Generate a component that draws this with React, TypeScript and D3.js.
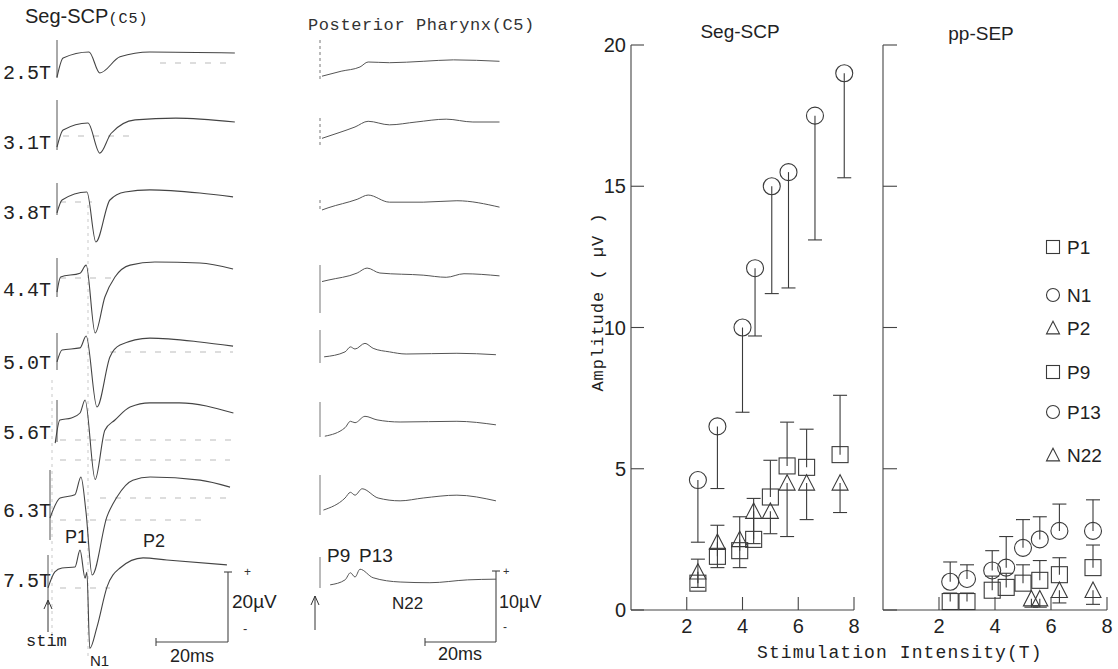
import React, { useEffect } from 'react';
import * as d3 from 'd3';

type Pt = [number, number];

// ---------- left: averaged waveforms ----------
const rowLabels = ['2.5T', '3.1T', '3.8T', '4.4T', '5.0T', '5.6T', '6.3T', '7.5T'];

// Seg-SCP(C5), [ms after stim, µV from baseline]
const segTraces: Pt[][] = [
  [[0, -4.9], [1.7, 0.6], [8.9, 2.3], [11.9, -3.7], [17.5, 0.9], [25.8, 2.3], [49.4, 2.0]],
  [[0, -4.9], [1.7, 0], [8.6, 2.0], [11.9, -6.6], [15, -1], [21.7, 2.9], [33, 3.4], [49.4, 2.3]],
  [[0, -3.7], [1.4, 0], [8.3, 2.3], [10.8, -12], [14.7, 0], [18.9, 2.3], [25.8, 2.9], [39.7, 2.0], [48.9, 0.9]],
  [[0, -4.3], [1, 0], [6.4, 1.1], [8.1, 3.4], [10.6, -16], [13.3, -5.7], [16.1, 0], [20.3, 3.4], [27.2, 4.3], [39.7, 4.0], [48.9, 2.3]],
  [[0, -3.4], [1.4, 0], [6.4, 0.6], [8.1, 4], [11.1, -16.3], [14.7, -2], [17.5, 1.4], [25.8, 3.4], [39.7, 2.3], [48.9, 1.1]],
  [[-0.5, -6.6], [0.8, 0], [4, 0.6], [6.4, 2], [7.8, 5.7], [10.6, -17], [13.3, -2.9], [16.1, 0], [20.3, 3.7], [25.8, 4.9], [34, 4.9], [49, 2]],
  [[0, -5.7], [2.8, 0], [6.9, 0.9], [8.6, 6], [10, -4], [11.7, -22], [15.8, -5.4], [18.6, 0.3], [23, 5.1], [27.8, 6], [41.7, 5.1], [50, 3.1]],
  [[0, -5.7], [1.9, -1.1], [3.9, 0], [7.5, 0.3], [8.9, 5.1], [10.3, -2.9], [10.8, -1.2], [11.6, -23], [13.6, -16.9], [16.4, -5.4], [20, 0], [26.4, 2.9], [33, 2.3], [49.7, 0.9]],
];

// Posterior Pharynx(C5), [ms after stim, µV from baseline]
const ppTraces: Pt[][] = [
  [[0, -2.0], [5.4, -1.3], [10.7, -0.7], [13, 0], [19, -0.1], [28.5, 0.1], [37, 0.3], [50, 0.1]],
  [[0, -2.3], [4.8, -1.5], [9.3, -0.7], [13, 0.1], [19, -0.4], [26.5, 0], [35, 0.4], [42.5, 0], [50, 0]],
  [[0, -0.7], [1.7, -0.4], [9.9, 0.8], [13, 1.4], [19, 0.4], [28.5, 0.4], [38, 0.6], [50, -0.3]],
  [[0, -0.5], [1.7, -0.3], [9.9, 0.7], [12.7, 1.4], [16.3, 0.7], [28.5, 0.4], [35, 0.1], [40, 0.6], [50, 0.3]],
  [[0.6, -0.4], [6.5, 0.3], [8, 1], [9.3, 0.7], [12.1, 1.5], [14.4, 0.8], [19, 0.3], [23.7, 0], [38, 0.1], [49, -0.1]],
  [[0.8, -2], [6.5, -0.8], [8, 0.1], [9.3, -0.1], [12.1, 0.8], [15.5, 0.3], [22, 0], [38, 0.1], [49, -0.4]],
  [[0.4, -1.7], [6.5, 0], [8, 0.8], [9.3, 0.4], [11.3, 1.3], [15.8, 0], [22, -0.4], [28.5, 0], [38, 0.4], [49, -0.4]],
  [[2.3, -0.4], [6.5, 0.3], [8, 1.3], [9.3, 0.7], [10.7, 1.8], [14.4, 0.6], [22, 0], [30.4, -0.1], [41, 0.3], [49, 0.4]],
];

// ---------- right: amplitude vs stimulation intensity ----------
const intensity = [2.4, 3.1, 3.9, 4.4, 5.0, 5.6, 6.3, 7.5];
const segN1X = [2.4, 3.1, 4.0, 4.45, 5.05, 5.65, 6.6, 7.65];
const segN1 = [4.6, 6.5, 10.0, 12.1, 15.0, 15.5, 17.5, 19.0];
const segN1Low = [2.4, 4.3, 7.0, 9.7, 11.2, 11.4, 13.1, 15.3];
const segP1 = [0.95, 1.9, 2.1, 2.5, 4.0, 5.1, 5.05, 5.5];
const segP1High = [1.8, 3.0, 3.3, 3.95, 5.3, 6.65, 6.4, 7.6];
const segP2 = [1.35, 2.4, 2.5, 3.5, 3.5, 4.5, 4.5, 4.5];
const segP2Low = [0.8, 1.5, 1.5, 2.35, 2.7, 2.6, 3.2, 3.45];

const ppX = [2.4, 3.0, 3.9, 4.4, 5.0, 5.6, 6.3, 7.5];
const ppP13 = [1.0, 1.1, 1.4, 1.5, 2.2, 2.5, 2.8, 2.8];
const ppP13High = [1.7, 1.6, 2.1, 2.6, 3.2, 3.3, 3.75, 3.9];
const ppP9 = [0.3, 0.3, 0.7, 0.8, 0.95, 1.05, 1.25, 1.5];
const ppP9High = [0.6, 0.6, 1.2, 1.3, 1.6, 1.75, 1.85, 2.3];
const ppN22X = [5.3, 5.6, 6.3, 7.5];
const ppN22 = [0.4, 0.4, 0.7, 0.7];
const ppN22Low = [0.1, 0.1, 0.25, 0.2];

const yTicks = [0, 5, 10, 15, 20];
const xTicks = [2, 4, 6, 8];
const legendItems = [
  { name: 'P1', shape: 'square' },
  { name: 'N1', shape: 'circle' },
  { name: 'P2', shape: 'triangle' },
  { name: 'P9', shape: 'square' },
  { name: 'P13', shape: 'circle' },
  { name: 'N22', shape: 'triangle' },
];

const SANS = '"Liberation Sans", Arial, sans-serif';
const MONO = '"Liberation Mono", "DejaVu Sans Mono", monospace';
const INK = '#3a3a3a';

function Marker({ shape, x, y, s }: { shape: string; x: number; y: number; s: number }) {
  if (shape === 'circle') return <circle cx={x} cy={y} r={s / 2} fill="none" stroke={INK} strokeWidth={1.1} />;
  if (shape === 'square')
    return <rect x={x - s / 2} y={y - s / 2} width={s} height={s} fill="none" stroke={INK} strokeWidth={1.1} />;
  const h = s * 0.9;
  return (
    <path d={`M${x},${y - h / 2 - 1} L${x + s / 2},${y + h / 2} L${x - s / 2},${y + h / 2} Z`} fill="none" stroke={INK} strokeWidth={1.1} />
  );
}

function ErrBar({ x, y0, y1 }: { x: number; y0: number; y1: number }) {
  return (
    <g stroke={INK} strokeWidth={1.1}>
      <line x1={x} x2={x} y1={y0} y2={y1} />
      <line x1={x - 7} x2={x + 7} y1={y1} y2={y1} />
    </g>
  );
}

export default function App() {
  useEffect(() => {
    document.body.style.margin = '0';
  }, []);

  // waveform scales
  const segT = d3.scaleLinear().domain([0, 20]).range([0, 72]);
  const segV = d3.scaleLinear().domain([0, 20]).range([0, -70]);
  const ppT = d3.scaleLinear().domain([0, 20]).range([0, 71]);
  const ppV = d3.scaleLinear().domain([0, 10]).range([0, -71]);
  const segLine = d3.line<Pt>().x(d => segT(d[0])).y(d => segV(d[1])).curve(d3.curveMonotoneX);
  const ppLine = d3.line<Pt>().x(d => ppT(d[0])).y(d => ppV(d[1])).curve(d3.curveMonotoneX);

  const segRowY = [60, 130, 200, 277, 350, 420, 498, 568];
  const segRowX = [57, 57, 57, 57, 57, 57, 50, 48];
  const segStim = [[40, 78], [100, 150], [183, 215], [258, 297], [333, 370], [400, 442], [470, 540], [555, 605]];
  const ppRowY = [62, 122, 205, 278, 354, 422, 498, 582];
  const ppRowX = [322, 322, 322, 322, 322, 322, 322, 322];
  const ppStim = [[40, 80], [118, 145], [200, 212], [265, 313], [330, 363], [402, 437], [475, 515], [557, 588]];

  // faint baseline dashes from the recording sheet
  const dashes = [
    [160, 235, 63], [63, 130, 136], [60, 92, 202], [60, 120, 278], [110, 233, 352], [60, 233, 440],
    [60, 230, 460], [100, 230, 498], [60, 110, 588], [60, 210, 520],
  ];

  // amplitude panels
  const segXs = d3.scaleLinear().domain([0, 8]).range([631, 854]);
  const ppXs = d3.scaleLinear().domain([0, 8]).range([883, 1107]);
  const yS = d3.scaleLinear().domain([0, 20]).range([610, 45]);

  const segCorner = { x: 228, y: 642 };
  const ppCorner = { x: 496, y: 642 };

  return (
    <svg width={1118} height={669} style={{ position: 'absolute', left: 0, top: 0, background: '#fff' }}>
      {/* ---- Seg-SCP waveforms ---- */}
      <text x={25} y={23} fontFamily={SANS} fontSize={20} fill="#222">
        Seg-SCP
        <tspan fontFamily={MONO} fontSize={15} letterSpacing={1}>(C5)</tspan>
      </text>
      {dashes.map((d, i) => (
        <line key={i} x1={d[0]} x2={d[1]} y1={d[2]} y2={d[2]} stroke="#aaa" strokeWidth={0.8} strokeDasharray="6 9" />
      ))}
      <line x1={88} x2={88} y1={205} y2={660} stroke="#bbb" strokeWidth={0.8} strokeDasharray="3 4" />
      <line x1={52} x2={52} y1={380} y2={640} stroke="#bbb" strokeWidth={0.8} strokeDasharray="3 4" />
      {segTraces.map((tr, i) => (
        <g key={i}>
          <text x={3} y={segRowY[i] + 19} fontFamily={MONO} fontSize={20} fill="#222">
            {rowLabels[i]}
          </text>
          <line x1={segRowX[i]} x2={segRowX[i]} y1={segStim[i][0]} y2={segStim[i][1]} stroke="#555" strokeWidth={1} />
          <path
            transform={`translate(${segRowX[i]},${segRowY[i]})`}
            d={segLine(tr) ?? ''}
            fill="none"
            stroke="#444"
            strokeWidth={1.1}
          />
        </g>
      ))}
      <text x={65} y={543} fontFamily={SANS} fontSize={18} fill="#222">P1</text>
      <text x={143} y={547} fontFamily={SANS} fontSize={18} fill="#222">P2</text>
      <text x={90} y={666} fontFamily={SANS} fontSize={15} fill="#222">N1</text>
      <text x={26} y={646} fontFamily={MONO} fontSize={17} fill="#222">stim</text>
      <path d="M48,632 L48,601 M44,609 L48,600 L52,609" fill="none" stroke="#333" strokeWidth={1} />
      <g stroke="#444" strokeWidth={1.1}>
        <line x1={segCorner.x - segT(20)} x2={segCorner.x} y1={segCorner.y} y2={segCorner.y} />
        <line x1={segCorner.x - segT(20)} x2={segCorner.x - segT(20)} y1={segCorner.y - 4} y2={segCorner.y + 4} />
        <line x1={segCorner.x} x2={segCorner.x} y1={segCorner.y} y2={segCorner.y + segV(20)} />
        <line x1={segCorner.x - 4} x2={segCorner.x + 4} y1={segCorner.y + segV(20)} y2={segCorner.y + segV(20)} />
      </g>
      <text x={244} y={576} fontFamily={SANS} fontSize={12} fill="#333">+</text>
      <text x={243} y={633} fontFamily={SANS} fontSize={13} fill="#333">-</text>
      <text x={232} y={608} fontFamily={SANS} fontSize={19} fill="#222">20µV</text>
      <text x={170} y={662} fontFamily={SANS} fontSize={18} fill="#222">20ms</text>

      {/* ---- Posterior Pharynx waveforms ---- */}
      <text x={308} y={30} fontFamily={MONO} fontSize={17} letterSpacing={0.6} fill="#333">
        Posterior Pharynx(C5)
      </text>
      {ppTraces.map((tr, i) => (
        <g key={i}>
          <line x1={ppRowX[i] - 2} x2={ppRowX[i] - 2} y1={ppStim[i][0]} y2={ppStim[i][1]} stroke="#777" strokeWidth={1} strokeDasharray={i < 3 ? '3 3' : undefined} />
          <path
            transform={`translate(${ppRowX[i]},${ppRowY[i]})`}
            d={ppLine(tr) ?? ''}
            fill="none"
            stroke="#555"
            strokeWidth={1}
          />
        </g>
      ))}
      <text x={327} y={562} fontFamily={SANS} fontSize={19} fill="#222">P9</text>
      <text x={359} y={562} fontFamily={SANS} fontSize={19} fill="#222">P13</text>
      <text x={392} y={609} fontFamily={SANS} fontSize={17} fill="#222">N22</text>
      <path d="M315,630 L315,596 M311,605 L315,596 L319,605" fill="none" stroke="#333" strokeWidth={1} />
      <g stroke="#444" strokeWidth={1.1}>
        <line x1={ppCorner.x - ppT(20)} x2={ppCorner.x} y1={ppCorner.y} y2={ppCorner.y} />
        <line x1={ppCorner.x - ppT(20)} x2={ppCorner.x - ppT(20)} y1={ppCorner.y - 4} y2={ppCorner.y + 4} />
        <line x1={ppCorner.x} x2={ppCorner.x} y1={ppCorner.y} y2={ppCorner.y + ppV(10)} />
        <line x1={ppCorner.x - 4} x2={ppCorner.x + 4} y1={ppCorner.y + ppV(10)} y2={ppCorner.y + ppV(10)} />
      </g>
      <text x={503} y={575} fontFamily={SANS} fontSize={11} fill="#333">+</text>
      <text x={503} y={631} fontFamily={SANS} fontSize={12} fill="#333">-</text>
      <text x={499} y={608} fontFamily={SANS} fontSize={18} fill="#222">10µV</text>
      <text x={438} y={660} fontFamily={SANS} fontSize={18} fill="#222">20ms</text>

      {/* ---- Seg-SCP amplitude panel ---- */}
      <text x={740} y={38} textAnchor="middle" fontFamily={SANS} fontSize={19} fill="#222">Seg-SCP</text>
      <g stroke="#444" strokeWidth={1.1}>
        <line x1={segXs(0)} x2={segXs(0)} y1={yS(20)} y2={yS(0)} />
        <line x1={segXs(0)} x2={segXs(8)} y1={yS(0)} y2={yS(0)} />
        {yTicks.map(t => (
          <line key={t} x1={segXs(0)} x2={segXs(0) + 13} y1={yS(t)} y2={yS(t)} />
        ))}
        {xTicks.map(t => (
          <line key={t} x1={segXs(t)} x2={segXs(t)} y1={yS(0)} y2={yS(0) - 13} />
        ))}
      </g>
      {yTicks.map(t => (
        <text key={t} x={segXs(0) - 5} y={yS(t) + 7} textAnchor="end" fontFamily={SANS} fontSize={20} fill="#222">
          {t}
        </text>
      ))}
      {xTicks.map(t => (
        <text key={t} x={segXs(t)} y={yS(0) + 23} textAnchor="middle" fontFamily={SANS} fontSize={20} fill="#222">
          {t}
        </text>
      ))}
      <text
        transform="translate(603,302) rotate(-90)"
        textAnchor="middle"
        fontFamily={MONO}
        fontSize={17}
        letterSpacing={1}
        fill="#222"
      >
        Amplitude ( µV )
      </text>
      {segN1.map((v, i) => (
        <g key={'n1' + i}>
          <ErrBar x={segXs(segN1X[i])} y0={yS(v)} y1={yS(segN1Low[i])} />
          <Marker shape="circle" x={segXs(segN1X[i])} y={yS(v)} s={17} />
        </g>
      ))}
      {segP1.map((v, i) => (
        <g key={'p1' + i}>
          <ErrBar x={segXs(intensity[i])} y0={yS(v)} y1={yS(segP1High[i])} />
          <Marker shape="square" x={segXs(intensity[i])} y={yS(v)} s={16} />
        </g>
      ))}
      {segP2.map((v, i) => (
        <g key={'p2' + i}>
          <ErrBar x={segXs(intensity[i])} y0={yS(v)} y1={yS(segP2Low[i])} />
          <Marker shape="triangle" x={segXs(intensity[i])} y={yS(v)} s={16} />
        </g>
      ))}

      {/* ---- pp-SEP amplitude panel ---- */}
      <text x={981} y={40} textAnchor="middle" fontFamily={SANS} fontSize={19} fill="#222">pp-SEP</text>
      <g stroke="#444" strokeWidth={1.1}>
        <line x1={ppXs(0)} x2={ppXs(0)} y1={yS(20)} y2={yS(0)} />
        <line x1={ppXs(0)} x2={ppXs(8)} y1={yS(0)} y2={yS(0)} />
        {yTicks.map(t => (
          <line key={t} x1={ppXs(0)} x2={ppXs(0) + 14} y1={yS(t)} y2={yS(t)} />
        ))}
        {xTicks.map(t => (
          <line key={t} x1={ppXs(t)} x2={ppXs(t)} y1={yS(0)} y2={yS(0) - 13} />
        ))}
      </g>
      {xTicks.map(t => (
        <text key={t} x={ppXs(t)} y={yS(0) + 23} textAnchor="middle" fontFamily={SANS} fontSize={20} fill="#222">
          {t}
        </text>
      ))}
      {ppP13.map((v, i) => (
        <g key={'p13' + i}>
          <ErrBar x={ppXs(ppX[i])} y0={yS(v)} y1={yS(ppP13High[i])} />
          <Marker shape="circle" x={ppXs(ppX[i])} y={yS(v)} s={17} />
        </g>
      ))}
      {ppP9.map((v, i) => (
        <g key={'p9' + i}>
          <ErrBar x={ppXs(ppX[i])} y0={yS(v)} y1={yS(ppP9High[i])} />
          <Marker shape="square" x={ppXs(ppX[i])} y={yS(v)} s={16} />
        </g>
      ))}
      {ppN22.map((v, i) => (
        <g key={'n22' + i}>
          <ErrBar x={ppXs(ppN22X[i])} y0={yS(v)} y1={yS(ppN22Low[i])} />
          <Marker shape="triangle" x={ppXs(ppN22X[i])} y={yS(v)} s={16} />
        </g>
      ))}

      <text x={757} y={658} fontFamily={MONO} fontSize={18} letterSpacing={1.1} fill="#222">
        Stimulation Intensity(T)
      </text>

      {/* legend */}
      {legendItems.map((it, i) => {
        const ly = [247, 295, 328, 372, 412, 455][i];
        return (
          <g key={it.name}>
            <Marker shape={it.shape} x={1053} y={ly} s={13} />
            <text x={1067} y={ly + 7} fontFamily={SANS} fontSize={19} fill="#222">
              {it.name}
            </text>
          </g>
        );
      })}
    </svg>
  );
}
